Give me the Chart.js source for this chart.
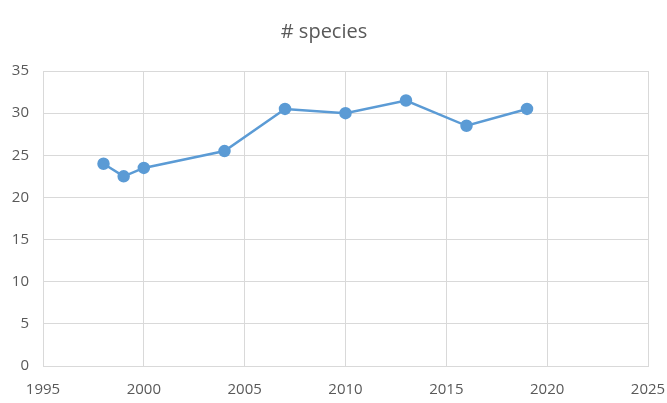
<!DOCTYPE html>
<html>
<head>
<meta charset="utf-8">
<script src="https://cdn.jsdelivr.net/npm/chart.js@4/dist/chart.umd.min.js"></script>
<style>
html,body{margin:0;padding:0;background:#fff;}
#wrap{width:667px;height:403px;}
</style>
</head>
<body>
<div id="wrap"><canvas id="c" width="667" height="403"></canvas></div>
<script>
const years = [1998, 1999, 2000, 2004, 2007, 2010, 2013, 2016, 2019];
const species = [24, 22.5, 23.5, 25.5, 30.5, 30, 31.5, 28.5, 30.5];
const chartTitle = "# species";

const textColor = "#595959";
const gridColor = "#d9d9d9";
const lineColor = "#5b9bd5";
const fontFam = "'Open Sans', 'Liberation Sans', sans-serif";

new Chart(document.getElementById("c"), {
  type: "line",
  data: {
    datasets: [{
      data: years.map((y, i) => ({x: y, y: species[i]})),
      borderColor: lineColor,
      backgroundColor: lineColor,
      borderWidth: 2.5,
      pointRadius: 5,
      pointHoverRadius: 5,
      pointBackgroundColor: lineColor,
      pointBorderColor: lineColor,
      tension: 0
    }]
  },
  options: {
    responsive: false,
    animation: false,
    layout: {padding: {left: 0, right: 19, top: 0, bottom: 0}},
    plugins: {
      legend: {display: false},
      tooltip: {enabled: false},
      title: {
        display: true,
        text: chartTitle,
        color: textColor,
        font: {family: fontFam, size: 20, weight: "normal"},
        padding: {top: 20, bottom: 27}
      }
    },
    scales: {
      x: {
        type: "linear",
        min: 1995,
        max: 2025,
        ticks: {
          stepSize: 5,
          color: textColor,
          padding: 15,
          font: {family: fontFam, size: 15},
          callback: v => String(v),
          maxRotation: 0
        },
        grid: {color: gridColor, lineWidth: 1, drawTicks: false},
        border: {color: gridColor, width: 1},
        afterFit: s => { s.height = 37; s.paddingLeft = 0; s.paddingRight = 0; }
      },
      y: {
        min: 0,
        max: 35,
        ticks: {
          stepSize: 5,
          color: textColor,
          padding: 14,
          font: {family: fontFam, size: 15}
        },
        grid: {color: gridColor, lineWidth: 1, drawTicks: false},
        border: {display: false},
        afterFit: s => { s.width = 43; s.paddingTop = 0; s.paddingBottom = 0; }
      }
    }
  }
});
</script>
</body>
</html>
